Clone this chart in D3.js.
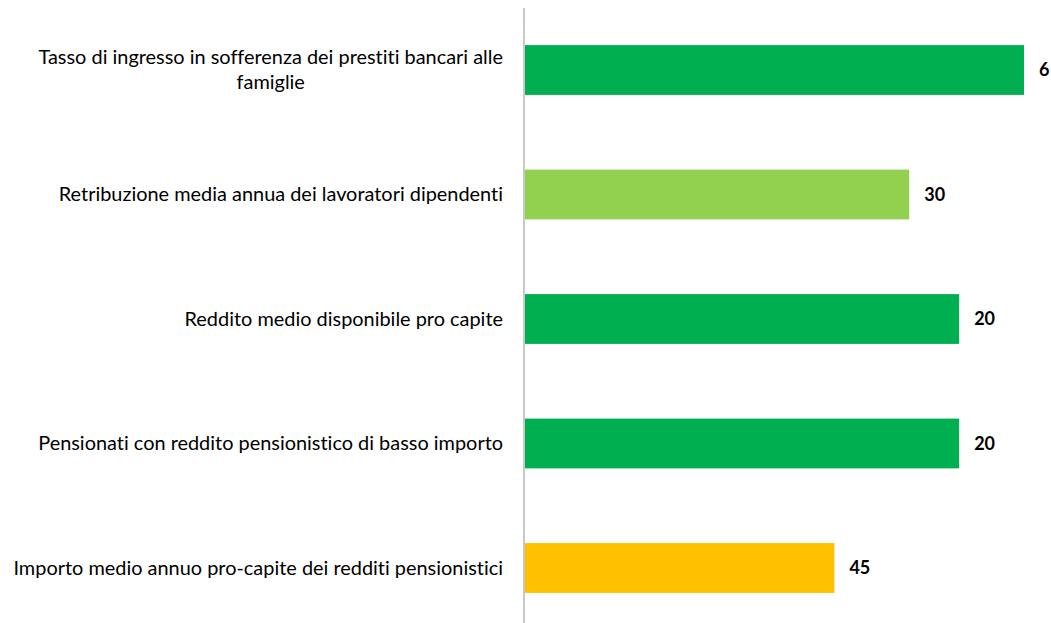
<!DOCTYPE html>
<html><head><meta charset="utf-8">
<script src="https://cdn.jsdelivr.net/npm/d3@7"></script>
<style>body{margin:0;background:#fff}svg{display:block}text{font-variant-ligatures:none;font-feature-settings:"liga" 0,"clig" 0}</style>
</head><body>
<script>
const categories = [
  "Tasso di ingresso in sofferenza dei prestiti bancari alle famiglie",
  "Retribuzione media annua dei lavoratori dipendenti",
  "Reddito medio disponibile pro capite",
  "Pensionati con reddito pensionistico di basso importo",
  "Importo medio annuo pro-capite dei redditi pensionistici"
];
const ranks = [6, 30, 20, 20, 45];
const colors = ["#00B050", "#92D050", "#00B050", "#00B050", "#FFC000"];

const W = 1051, H = 623;
const axisX = 524;
const svg = d3.select("body").append("svg").attr("width", W).attr("height", H);

const x = d3.scaleLinear().domain([107, 7]).range([axisX + 1, axisX + 500]).clamp(true);
const y = d3.scaleBand().domain(categories).range([7.75, 630.25]).paddingInner(0.6).paddingOuter(0.3);

svg.selectAll("rect.bar").data(categories).join("rect")
  .attr("class", "bar")
  .attr("x", axisX + 1)
  .attr("y", d => y(d))
  .attr("width", (d, i) => x(ranks[i]) - (axisX + 1))
  .attr("height", y.bandwidth())
  .attr("fill", (d, i) => colors[i]);

svg.append("line").attr("x1", axisX).attr("x2", axisX).attr("y1", 8).attr("y2", H)
  .attr("stroke", "#BFBFBF").attr("stroke-width", 1.7);

svg.selectAll("text.val").data(categories).join("text")
  .attr("class", "val")
  .attr("x", (d, i) => x(ranks[i]) + 15)
  .attr("y", d => y(d) + y.bandwidth() / 2)
  .attr("dy", "0.36em")
  .attr("font-family", "Lato, sans-serif")
  .attr("font-weight", "bold")
  .attr("font-size", 18)
  .attr("fill", "#000")
  .text((d, i) => ranks[i]);

// fit category font size so the longest single-line label spans ~490px
const probe = svg.append("text").attr("font-family", "Lato, sans-serif").attr("font-size", 20)
  .text(categories[4]);
const fs = 20 * 490 / probe.node().getComputedTextLength();
probe.remove();

const maxW = 495;
const lineH = 25;
const right = 503;
categories.forEach(cat => {
  const words = cat.split(" ");
  const tmp = svg.append("text").attr("font-family", "Lato, sans-serif").attr("font-size", fs);
  const lines = [];
  let cur = [];
  words.forEach(w => {
    const t = cur.concat([w]).join(" ");
    tmp.text(t);
    if (tmp.node().getComputedTextLength() > maxW && cur.length) {
      lines.push(cur.join(" "));
      cur = [w];
    } else cur.push(w);
  });
  lines.push(cur.join(" "));
  const widths = lines.map(l => { tmp.text(l); return tmp.node().getComputedTextLength(); });
  tmp.remove();
  const blockW = d3.max(widths);
  const cx = right - blockW / 2;
  const cy = y(cat) + y.bandwidth() / 2;
  const t = svg.append("text")
    .attr("font-family", "Lato, sans-serif").attr("font-size", fs)
    .attr("fill", "#000").attr("text-anchor", "middle");
  lines.forEach((l, i) => {
    t.append("tspan").attr("x", cx)
      .attr("y", cy + (i - (lines.length - 1) / 2) * lineH)
      .attr("dy", "0.35em").text(l);
  });
});
</script>
</body></html>
